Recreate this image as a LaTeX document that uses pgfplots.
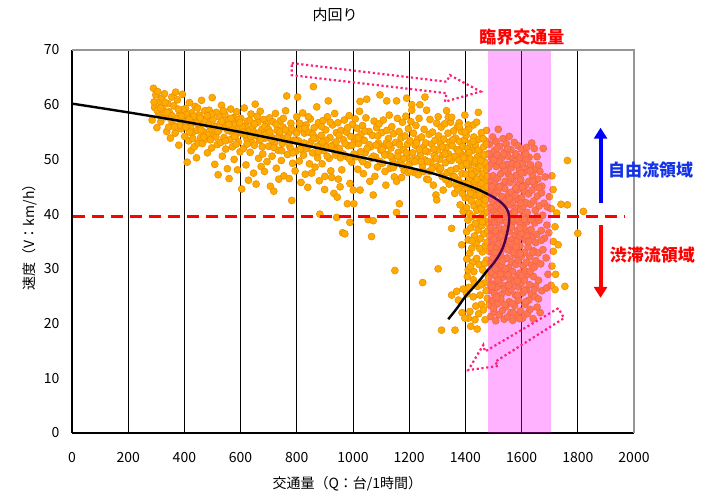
\documentclass[border=0pt]{standalone}
\usepackage{fontspec}
\setmainfont{Noto Sans CJK JP}
\usepackage{pgfplots}
\pgfplotsset{compat=1.18}
\usetikzlibrary{arrows.meta}
\definecolor{ptfill}{RGB}{255,170,0}
\definecolor{ptedge}{RGB}{235,145,0}
\definecolor{dotpink}{RGB}{255,30,120}
\definecolor{txtblue}{RGB}{20,50,230}
\definecolor{bandmag}{RGB}{255,0,255}
\definecolor{pured}{RGB}{255,0,0}
\definecolor{pureblue}{RGB}{0,0,255}
\begin{document}
\begin{tikzpicture}
\path[use as bounding box] (-72pt,-59pt) rectangle (629pt,433pt);
\begin{axis}[
 scale only axis, width=562pt, height=383pt,
 xmin=0, xmax=2000, ymin=0, ymax=70,
 xtick={0,200,...,2000}, ytick={0,10,...,70},
 axis lines*=left, axis line style={black, line width=1.2pt},
 major tick length=0pt,
 xmajorgrids, grid style={black, line width=1pt},
 clip=false, clip marker paths=true,
 /pgf/number format/1000 sep={}, scaled ticks=false,
 /pgf/number format/assume math mode=true,
 tick label style={font=\fontsize{14}{16}\selectfont},
 xticklabel style={yshift=-16pt},
 yticklabel style={xshift=-9pt},
 xlabel={交通量（Q：台/1時間）}, ylabel={速度（V：km/h）},
 label style={font=\fontsize{14}{16}\selectfont},
 xlabel style={at={(axis description cs:0.49,-0.132)}, anchor=center},
 ylabel style={at={(axis description cs:-0.075,0.52)}, anchor=center},
]
% scatter points
\addplot[only marks, mark=*, mark size=3.5pt, mark options={fill=ptfill, draw=ptedge, line width=0.6pt}] coordinates {
(285,57.2) (290,63.0) (294,59.5) (298,61.8) (302,55.8) (305,62.4) (309,58.3) (312,60.6) (316,56.9) (320,61.2) (324,59.1) (329,62.0) (333,57.8) (337,55.1) (341,60.2) (346,58.7) (350,53.9) (355,61.4) (358,56.3) (362,59.8) (367,54.8) (371,57.5) (375,60.9) (380,52.6) (384,58.4) (388,55.6) (393,61.9) (397,57.0)
(401,54.2) (404,59.3) (407,56.7) (410,49.5) (412,57.9) (415,53.4) (418,60.4) (421,55.8) (424,51.6) (426,58.5) (429,54.9) (432,56.8) (435,52.3) (438,59.7) (441,57.4) (443,50.3) (446,55.3) (449,53.0) (452,58.1) (455,56.2) (458,54.0) (461,60.8) (464,52.9) (467,57.2) (470,55.0) (473,58.9) (476,53.7) (479,56.5) (482,51.2) (485,54.6) (488,59.0) (491,57.7) (494,55.6) (497,52.1) (499,61.3)
(502,57.3) (505,54.4) (508,49.1) (511,56.0) (514,58.6) (517,52.7) (520,47.2) (523,55.4) (526,57.8) (529,53.1) (532,59.9) (535,50.6) (538,56.6) (541,54.0) (544,58.2) (547,51.9) (550,55.7) (553,48.3) (556,57.1) (559,46.5) (562,53.6) (565,59.2) (568,55.0) (571,52.3) (574,57.6) (577,50.0) (580,56.3) (583,54.5) (586,58.7) (589,48.1) (592,53.2) (595,55.9) (598,51.4)
(601,57.5) (604,44.6) (607,54.7) (610,52.0) (613,59.4) (616,56.1) (619,49.0) (622,53.8) (625,57.0) (628,46.2) (631,55.2) (634,51.3) (637,58.3) (640,53.1) (643,55.9) (646,47.5) (649,52.6) (652,60.1) (655,45.5) (658,54.3) (661,56.8) (664,50.2) (667,53.5) (670,58.8) (673,48.7) (676,55.5) (679,51.0) (682,57.3) (685,47.8) (688,53.9) (691,56.4) (694,49.6) (697,54.8)
(700,52.4) (703,57.6) (706,45.1) (709,54.2) (712,50.6) (715,56.9) (718,44.2) (721,53.0) (724,58.4) (727,48.4) (730,55.3) (733,51.7) (736,46.4) (739,54.5) (742,57.1) (745,49.8) (748,52.9) (751,55.9) (754,47.0) (757,53.8) (760,58.9) (764,61.6) (767,50.9) (770,54.7) (773,46.5) (776,52.2) (779,56.6) (782,42.5) (785,49.3) (788,53.5) (791,55.2) (794,47.9) (797,51.5)
(800,57.8) (803,61.4) (806,53.4) (809,49.7) (812,55.6) (815,45.8) (818,52.6) (821,58.5) (824,50.8) (827,54.8) (830,47.3) (833,56.3) (836,52.0) (839,44.9) (842,55.0) (845,49.2) (848,57.4) (851,53.3) (853,47.5) (856,51.2) (859,63.3) (862,55.8) (865,48.6) (868,53.9) (871,59.6) (874,50.3) (877,56.7) (880,46.1) (882,40.0) (884,52.8) (887,54.4) (890,49.2) (893,57.1) (896,51.6) (899,44.5)
(900,46.9) (903,55.4) (906,52.3) (909,57.8) (912,60.7) (915,50.2) (918,54.0) (921,47.9) (924,46.7) (927,56.3) (930,52.7) (932,43.8) (935,58.4) (938,50.8) (941,54.9) (942,39.4) (944,43.1) (946,56.7) (948,46.4) (951,52.0) (954,45.0) (957,55.3) (960,48.1) (963,36.6) (966,53.6) (969,57.2) (971,36.4) (974,50.6) (977,55.0) (980,41.9) (983,52.5) (986,58.0) (989,38.5) (989,45.6) (992,54.2) (995,49.5) (998,56.4)
(1001,44.4) (1003,41.9) (1005,53.2) (1008,57.4) (1011,50.5) (1014,55.7) (1017,48.2) (1020,52.9) (1023,58.8) (1025,44.4) (1025,60.6) (1028,54.6) (1031,50.0) (1034,56.2) (1037,47.4) (1040,53.5) (1043,51.2) (1046,57.6) (1049,61.0) (1052,49.0) (1054,39.0) (1057,55.1) (1060,46.0) (1063,52.3) (1066,35.9) (1069,54.4) (1072,43.5) (1072,38.8) (1075,57.0) (1078,46.9) (1081,50.4) (1084,55.8) (1087,48.6) (1090,53.0) (1093,56.5) (1096,61.8) (1099,51.7)
(1102,54.9) (1105,49.3) (1108,57.2) (1111,52.4) (1114,47.8) (1117,45.3) (1120,60.7) (1120,55.3) (1123,50.9) (1126,53.8) (1129,58.1) (1132,48.4) (1135,52.1) (1138,56.0) (1141,50.0) (1144,54.7) (1147,46.8) (1149,29.7) (1152,53.1) (1155,40.3) (1155,46.0) (1155,60.7) (1158,57.5) (1161,51.3) (1164,55.1) (1165,41.9) (1168,49.6) (1171,53.9) (1173,46.7) (1176,56.8) (1179,51.8) (1182,48.0) (1185,54.3) (1188,57.9) (1191,61.2) (1191,50.4) (1194,52.8) (1197,55.6)
(1200,49.1) (1203,53.4) (1206,56.9) (1209,60.0) (1209,59.0) (1212,51.2) (1215,54.8) (1218,47.6) (1221,52.6) (1224,56.2) (1227,50.1) (1230,53.7) (1232,47.2) (1235,57.5) (1238,60.0) (1241,51.0) (1244,54.1) (1247,48.8) (1248,27.5) (1250,52.2) (1253,55.5) (1256,61.4) (1256,49.9) (1259,53.0) (1262,59.0) (1262,46.4) (1265,51.4) (1268,46.3) (1271,54.6) (1274,57.3) (1277,49.5) (1280,52.8) (1283,55.0) (1286,45.3) (1289,50.7) (1292,53.5) (1295,43.5) (1298,42.6) (1298,56.6) (1299,48.7)
(1301,51.7) (1303,57.8) (1303,30.0) (1305,54.3) (1308,48.1) (1311,52.9) (1314,55.9) (1315,18.8) (1317,46.9) (1320,50.8) (1321,44.4) (1323,53.7) (1326,56.5) (1329,49.4) (1331,52.1) (1333,58.9) (1335,47.6) (1338,54.8) (1340,51.0) (1342,45.5) (1345,53.2) (1347,56.8) (1350,49.8) (1351,37.4) (1351,25.2) (1353,52.5) (1356,47.0) (1358,55.2) (1360,50.5) (1362,43.8) (1363,18.8) (1365,53.9) (1367,48.3) (1369,25.9) (1370,51.8) (1372,56.0) (1375,24.3) (1375,46.2) (1377,49.9) (1379,53.3) (1381,41.7) (1382,44.9) (1384,51.1) (1386,55.1) (1387,34.4) (1388,47.4) (1390,52.4) (1392,40.5) (1392,26.3) (1393,49.0) (1395,45.6) (1397,53.6) (1398,58.1) (1399,43.0)
(1339,57.7) (1351,57.7) (1378,56.7) (1378,56.0) (1410,56.3) (1428,56.3) (1446,58.6) (1475,55.3) (1517,55.5)
(1401,50.7) (1402,47.3) (1403,54.4) (1404,41.2) (1404,36.8) (1405,25.4) (1406,44.8) (1407,28.6) (1408,52.0) (1409,38.9) (1410,35.3) (1410,29.8) (1410,21.0) (1411,48.8) (1412,55.5) (1413,43.0) (1414,46.1) (1415,40.1) (1416,32.9) (1416,22.2) (1417,50.1) (1418,53.0) (1419,37.5) (1420,45.2) (1421,42.4) (1422,48.0) (1423,33.8) (1424,51.6) (1425,39.6) (1426,31.2) (1427,44.0) (1428,28.0) (1428,24.9) (1429,47.1) (1430,29.5) (1430,54.1) (1431,41.5) (1432,36.0) (1433,49.3) (1434,20.7) (1434,45.9) (1435,38.3) (1436,52.6) (1437,43.4) (1438,34.7) (1439,47.8) (1440,56.8) (1441,40.7) (1442,50.4) (1443,26.8) (1444,44.6) (1445,37.1) (1446,48.5) (1447,42.1) (1448,53.7) (1449,30.8) (1450,46.4) (1451,39.3) (1452,25.2) (1452,51.2) (1453,35.5) (1454,44.1) (1455,48.9) (1456,41.0) (1457,23.5) (1457,54.9) (1458,37.9) (1459,46.8) (1460,33.1) (1461,29.8) (1461,50.0) (1462,43.1) (1463,39.8) (1464,47.5) (1465,52.3) (1466,36.4) (1467,27.4) (1467,44.8) (1468,41.8) (1469,49.5) (1470,20.7) (1470,34.2) (1471,46.0) (1472,53.4) (1473,38.6) (1474,42.9) (1475,31.6) (1476,48.2) (1477,45.0) (1478,40.4) (1478,24.6) (1479,51.0) (1479,36.9) (1480,43.7) (1480,28.9)
(1486,52.8) (1492,50.4) (1497,54.1) (1503,51.6) (1509,53.3) (1514,50.8) (1522,52.4) (1528,50.2) (1534,53.8) (1539,51.3) (1545,52.9) (1551,50.6) (1556,54.2) (1562,51.8) (1568,50.1) (1574,53.1) (1580,51.0) (1587,52.5) (1594,50.3) (1601,51.9) (1609,50.7) (1618,52.2) (1627,50.4) (1636,53.0) (1677,52.0) (1655,50.5)
(1483,48.6) (1488,46.2) (1494,49.3) (1499,47.0) (1505,45.5) (1510,48.7) (1515,46.6) (1520,49.6) (1526,47.4) (1531,45.2) (1537,48.3) (1542,46.0) (1548,49.1) (1553,47.3) (1559,45.8) (1564,48.5) (1570,46.5) (1575,49.7) (1581,47.1) (1586,45.4) (1592,48.1) (1597,46.3) (1603,49.2) (1609,47.6) (1614,45.3) (1620,48.4) (1626,46.0) (1632,49.0) (1638,47.2) (1645,45.6) (1651,48.2) (1658,46.4) (1665,47.8) (1672,45.1) (1684,46.8)
(1484,43.5) (1489,41.2) (1493,44.6) (1498,42.3) (1502,40.4) (1507,43.8) (1512,41.6) (1516,44.3) (1521,42.0) (1525,40.6) (1530,43.2) (1535,41.4) (1540,44.7) (1544,42.5) (1549,40.2) (1554,43.6) (1558,41.7) (1563,44.0) (1568,42.2) (1572,40.5) (1577,43.4) (1582,41.1) (1586,44.5) (1591,42.6) (1596,40.8) (1600,43.0) (1605,41.4) (1610,44.2) (1615,42.1) (1620,40.3) (1625,43.7) (1631,41.8) (1637,44.4) (1643,42.4) (1649,40.7) (1656,43.3) (1663,41.5) (1671,43.9) (1680,42.0) (1692,41.3) (1699,43.2)
(1483,38.1) (1487,36.0) (1492,39.2) (1496,37.1) (1501,35.4) (1505,38.5) (1510,36.6) (1514,39.6) (1519,37.5) (1523,35.6) (1528,38.8) (1532,36.4) (1537,39.4) (1541,37.3) (1546,35.2) (1550,38.3) (1555,36.8) (1559,39.7) (1564,37.6) (1568,35.5) (1573,38.7) (1577,36.2) (1582,39.0) (1586,37.0) (1591,35.8) (1595,38.2) (1600,36.5) (1604,39.5) (1609,37.4) (1613,35.3) (1618,38.6) (1623,36.7) (1628,39.1) (1634,37.2) (1640,35.9) (1647,38.4) (1654,36.3) (1662,38.9) (1670,37.0) (1681,35.6) (1690,38.0)
(1484,33.2) (1489,31.0) (1494,34.3) (1499,32.1) (1504,30.4) (1509,33.7) (1514,31.5) (1519,34.6) (1524,32.4) (1529,30.6) (1534,33.9) (1539,31.8) (1544,34.1) (1549,32.0) (1554,30.2) (1559,33.4) (1564,31.3) (1569,34.5) (1574,32.6) (1579,30.8) (1584,33.6) (1589,31.6) (1594,34.2) (1599,32.3) (1605,30.5) (1611,33.0) (1617,31.2) (1623,34.0) (1629,32.2) (1636,30.7) (1643,33.3) (1651,31.5) (1659,32.9) (1668,30.9) (1676,33.5)
(1483,28.3) (1488,26.1) (1493,29.4) (1498,27.2) (1503,25.5) (1508,28.7) (1513,26.6) (1518,29.6) (1523,27.4) (1528,25.3) (1533,28.5) (1538,26.4) (1543,29.1) (1548,27.0) (1553,25.7) (1558,28.2) (1563,26.3) (1568,29.5) (1573,27.6) (1578,25.2) (1583,28.4) (1588,26.7) (1593,29.2) (1598,27.3) (1604,25.6) (1610,28.0) (1616,26.2) (1622,29.0) (1628,27.1) (1635,25.4) (1642,28.6) (1650,26.8) (1660,27.9) (1672,26.0) (1689,26.5)
(1484,23.4) (1490,21.3) (1496,24.2) (1502,22.1) (1508,20.5) (1514,23.6) (1520,21.6) (1526,24.5) (1532,22.4) (1538,20.8) (1544,23.1) (1550,21.2) (1556,24.0) (1562,22.0) (1568,20.6) (1575,23.3) (1582,21.5) (1589,24.3) (1596,22.3) (1604,21.0) (1612,23.5) (1620,21.8) (1630,22.6) (1641,20.9) (1655,23.0)
(1495,45.0) (1511,40.0) (1527,36.0) (1543,30.0) (1557,42.8) (1571,33.0) (1585,27.8) (1603,45.0) (1619,36.0) (1500,22.8) (1515,27.9) (1531,31.4) (1547,38.5) (1561,46.8) (1579,44.8) (1594,37.5) (1612,29.6) (1626,24.3) (1640,46.0) (1650,34.8) (1489,33.9) (1506,37.0) (1521,45.0) (1536,51.0) (1552,28.9) (1566,23.7) (1583,35.0) (1597,42.0) (1616,50.0) (1633,39.0) (1645,30.3) (1662,44.8) (1675,39.8) (1687,32.0) (1697,36.6) (1694,29.0) (1666,22.0) (1648,24.9) (1610,26.0) (1592,20.9) (1575,40.3) (1540,48.0) (1525,33.1) (1507,30.0) (1490,27.0)
(1719,37.7) (1713,35.0) (1730,34.4) (1713,33.2) (1754,26.8) (1719,26.2) (1763,41.7) (1763,49.8) (1820,40.5) (1800,36.5) (1706,41.0) (1712,44.5) (1725,40.2) (1740,41.8) (1708,47.0) (1705,27.0) (1708,30.5) (1721,29.0)
(303,59.0) (318,57.6) (331,60.4) (344,55.9) (356,58.0) (369,62.3) (382,56.2) (395,59.1) (408,58.2) (419,55.0) (433,57.9) (447,59.4) (459,55.4) (472,57.0) (486,56.3) (498,58.3) (512,54.1) (527,56.5) (539,58.9) (554,55.3) (566,57.5) (579,54.2) (593,57.3) (606,56.0) (618,54.6) (633,57.1) (647,55.0) (659,57.9) (672,53.7) (686,56.0) (699,55.5) (711,53.6) (726,56.4) (740,55.0) (752,57.5) (766,54.0) (781,55.6) (795,53.4)
(810,56.6) (826,53.0) (841,57.8) (857,54.6) (872,52.4) (888,56.0) (904,53.5) (919,56.8) (934,51.6) (950,54.4) (965,51.0) (981,55.8) (997,52.6) (1012,54.0) (1027,51.4) (1042,55.2) (1058,52.7) (1073,50.6) (1088,54.3) (1104,51.8) (1119,53.0) (1134,50.6) (1150,49.1) (1166,52.7) (1181,50.2) (1196,47.6) (1211,49.9) (1226,53.0) (1242,49.6) (1257,51.6) (1272,47.8) (1288,51.9)
(1306,50.0) (1318,52.3) (1330,46.3) (1343,50.2) (1355,53.6) (1366,45.4) (1376,51.5) (1385,48.8) (1394,50.3) (1399,55.0) (1404,49.2) (1409,45.5) (1413,51.3) (1418,43.8) (1423,47.2) (1427,53.3) (1432,44.9) (1436,49.7) (1441,46.4) (1445,51.7) (1449,43.5) (1454,49.8) (1458,45.6) (1463,53.8) (1467,50.8) (1471,42.6) (1476,52.8) (1479,46.9) (1405,31.8) (1412,26.6) (1418,30.4) (1424,35.1) (1433,27.3) (1437,23.2) (1440,31.9) (1447,21.8) (1451,33.7) (1456,27.1) (1460,38.6) (1464,22.5) (1469,31.0) (1474,26.0) (1477,34.9) (1419,19.5) (1388,22.0) (1398,21.0) (1442,19.0)
(1485,51.0) (1500,49.9) (1513,52.0) (1533,48.9) (1550,52.0) (1566,49.2) (1583,49.0) (1599,47.5) (1615,51.0) (1630,47.9) (1645,52.0) (1660,49.0) (1490,37.5) (1505,33.0) (1520,39.0) (1535,35.0) (1550,33.5) (1565,39.0) (1580,34.0) (1595,32.8) (1610,39.0) (1625,35.0) (1640,33.0) (1655,39.5) (1670,35.2) (1495,26.8) (1510,24.8) (1525,29.0) (1540,23.5) (1555,27.0) (1570,22.0) (1585,25.2) (1600,28.8) (1615,24.0) (1630,29.5) (1645,26.2) (1660,24.5)
(292,60.5) (315,59.4) (338,58.6) (352,57.3) (365,56.0) (378,59.2) (390,57.9) (405,55.9) (417,57.3) (430,53.8) (444,56.6) (456,57.6) (469,54.1) (481,58.0) (493,53.6) (506,56.0) (519,55.1) (533,57.0) (546,53.4) (558,56.4) (571,55.4) (584,52.8) (597,56.7) (609,55.0) (623,52.8) (636,54.2) (650,56.5) (663,54.8) (677,52.3) (690,54.6) (704,55.0) (718,52.2) (732,53.9) (746,51.6) (759,55.4) (772,52.9) (786,51.2) (799,54.8) (813,51.9) (829,55.7) (844,52.6) (860,53.9) (876,51.4) (892,53.2) (908,50.6) (923,52.4) (940,53.2) (955,50.3) (972,52.9) (987,50.1) (1003,51.0) (1019,53.9) (1035,49.6) (1050,52.0) (1066,50.2) (1082,52.6) (1097,49.6) (1113,50.8) (1128,52.7) (1143,48.5) (1159,50.6) (1175,48.9) (1190,51.2) (1205,47.9) (1220,49.6) (1236,51.8) (1251,47.8) (1266,49.6) (1281,48.3) (1296,50.2) (1312,48.4) (1327,51.0) (1348,48.0) (1361,46.8) (1373,44.6) (1389,43.8)
};
% fitted curve
\addplot[black, line width=2.4pt, smooth] coordinates {
(0,60.2) (200,58.6) (400,56.9) (600,55.0) (800,52.9) (1000,50.7) (1200,48.5) (1300,47.2) (1400,45.4) (1450,44.4) (1500,43.1) (1530,42.0) (1548,40.9) (1556,39.5) (1553,37.7) (1545,35.8) (1535,34.1) (1520,32.5) (1500,31.0) (1475,29.5) (1452,28.0) (1425,26.4) (1399,24.9) (1370,22.8) (1339,20.8)
};
% critical flow band
\addplot[draw=none, fill=bandmag, fill opacity=0.3] coordinates {(1481,0) (1481,70) (1704,70) (1704,0)} -- cycle;
% border top/right
\addplot[draw={rgb,255:red,150;green,150;blue,150}, line width=1.6pt] coordinates {(0,70) (2000,70) (2000,0)};
% dashed critical speed
\addplot[pured, line width=3pt, dash pattern=on 12pt off 7pt] coordinates {(3,39.55) (1965,39.55)};
% dotted outline arrows
\addplot[dotpink, line width=2.2pt, dash pattern=on 2.2pt off 2.6pt] coordinates {(782,67.6) (1333,64.2) (1345,65.4) (1454,62.4) (1327,60.55) (1333,62.1) (782,65.4)} -- cycle;
\addplot[dotpink, line width=2.2pt, dash pattern=on 2.2pt off 2.6pt] coordinates {(1730.6,22.8) (1469.8,14.9) (1463.7,16.1) (1410.3,11.5) (1517,12.25) (1505.3,13.0) (1751,21.0)} -- cycle;
% region arrows
\addplot[pureblue, line width=4pt, -{Triangle[length=11pt,width=13pt]}] coordinates {(1881,42.0) (1881,55.8)};
\addplot[pured, line width=4pt, -{Triangle[length=11pt,width=13pt]}] coordinates {(1881,38.0) (1881,24.7)};
% texts
\node[font=\fontsize{15}{17}\selectfont] at (axis cs:936,76.4) {内回り};
\node[font=\fontsize{17}{19}\selectfont\bfseries, text=pured] at (axis cs:1601,72.3) {臨界交通量};
\node[anchor=west, inner sep=0pt, font=\fontsize{17}{19}\selectfont\bfseries, text=txtblue] at (axis cs:1907,48.1) {自由流領域};
\node[anchor=west, inner sep=0pt, font=\fontsize{17}{19}\selectfont\bfseries, text=pured] at (axis cs:1913,32.5) {渋滞流領域};
\end{axis}
\end{tikzpicture}
\end{document}
